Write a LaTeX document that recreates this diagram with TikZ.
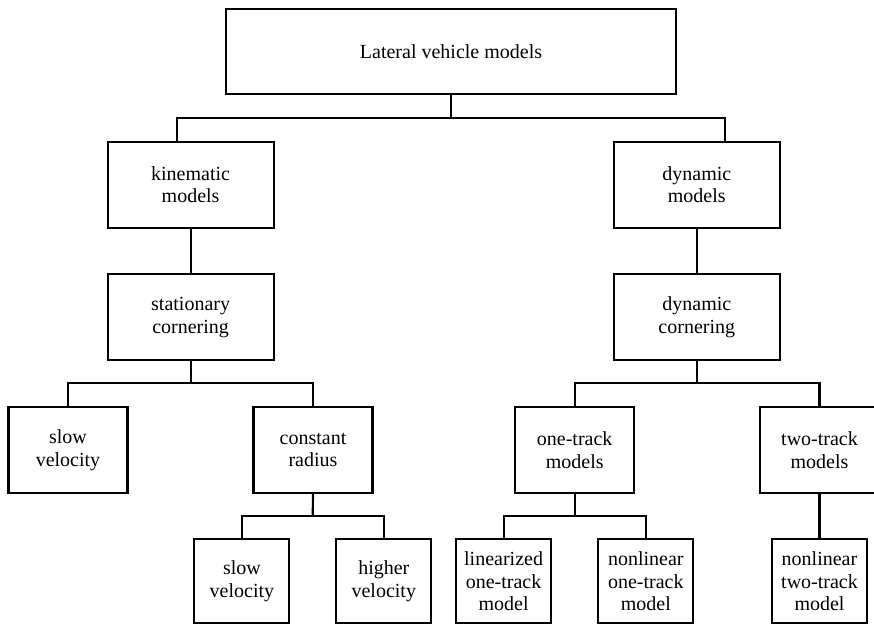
\documentclass[tikz,border=0pt]{standalone}
\usepackage{fontspec}
\setmainfont{Liberation Serif}
\begin{document}
\begin{tikzpicture}[x=0.75pt,y=-0.75pt,
  box/.style={draw, line width=1.6pt, inner sep=0pt, align=center,
    font=\fontsize{15}{17}\selectfont},
  rootbox/.style={box, minimum width=337.5pt, minimum height=63.75pt},
  midbox/.style={box, minimum width=124.5pt, minimum height=64.3pt},
  leafbox/.style={box, minimum width=89.25pt, minimum height=64pt},
  tipbox/.style={box, minimum width=71.25pt, minimum height=63pt},
  link/.style={line width=1.6pt}]
\useasboundingbox (0,0) rectangle (874,625);

% boxes
\node[rootbox] (root) at (451,51.5) {Lateral vehicle models};
\node[midbox] (kin) at (190.6,184.7) {kinematic\\models};
\node[midbox] (dyn) at (696.8,184.7) {dynamic\\models};
\node[midbox] (stat) at (190.6,317.2) {stationary\\cornering};
\node[midbox] (dcorn) at (696.8,317.2) {dynamic\\cornering};
\node[leafbox] (slowA) at (68,450) {slow\\velocity};
\node[leafbox] (crad) at (313,450) {constant\\radius};
\node[leafbox] (onetr) at (574.7,450) {one-track\\models};
\node[leafbox] (twotr) at (819.5,450) {two-track\\models};
\node[tipbox] (slowB) at (241.9,581.3) {slow\\velocity};
\node[tipbox] (higher) at (383.8,581.3) {higher\\velocity};
\node[tipbox] (lin) at (503.6,581.3) {linearized\\one-track\\model};
\node[tipbox] (nlone) at (645.8,581.3) {nonlinear\\one-track\\model};
\node[tipbox] (nltwo) at (819.5,581.3) {nonlinear\\two-track\\model};

% junction points of the tree
\coordinate (busA) at (451,117.7);
\coordinate (busAl) at (177.3,117.7);
\coordinate (busAr) at (724.6,117.7);
\coordinate (busB) at (190.6,383.3);
\coordinate (busC) at (696.8,383.3);
\coordinate (busD) at (312.7,516);
\coordinate (busE) at (574.7,516);

% connectors
\draw[link] (root.south) -- (busA);
\draw[link] (kin.north -| busAl) -- (busAl) -- (busAr) -- (dyn.north -| busAr);
\draw[link] (kin) -- (stat);
\draw[link] (dyn) -- (dcorn);
\draw[link] (stat.south) -- (busB);
\draw[link] (slowA.north) |- (busB) -| (crad.north);
\draw[link] (dcorn.south) -- (busC);
\draw[link] (onetr.north) |- (busC) -| (twotr.north);
\draw[link] (crad.south) -- (busD);
\draw[link] (slowB.north) |- (busD) -| (higher.north);
\draw[link] (onetr.south) -- (busE);
\draw[link] (lin.north) |- (busE) -| (nlone.north);
\draw[link] (twotr.south) -- (nltwo.north);
\end{tikzpicture}
\end{document}
